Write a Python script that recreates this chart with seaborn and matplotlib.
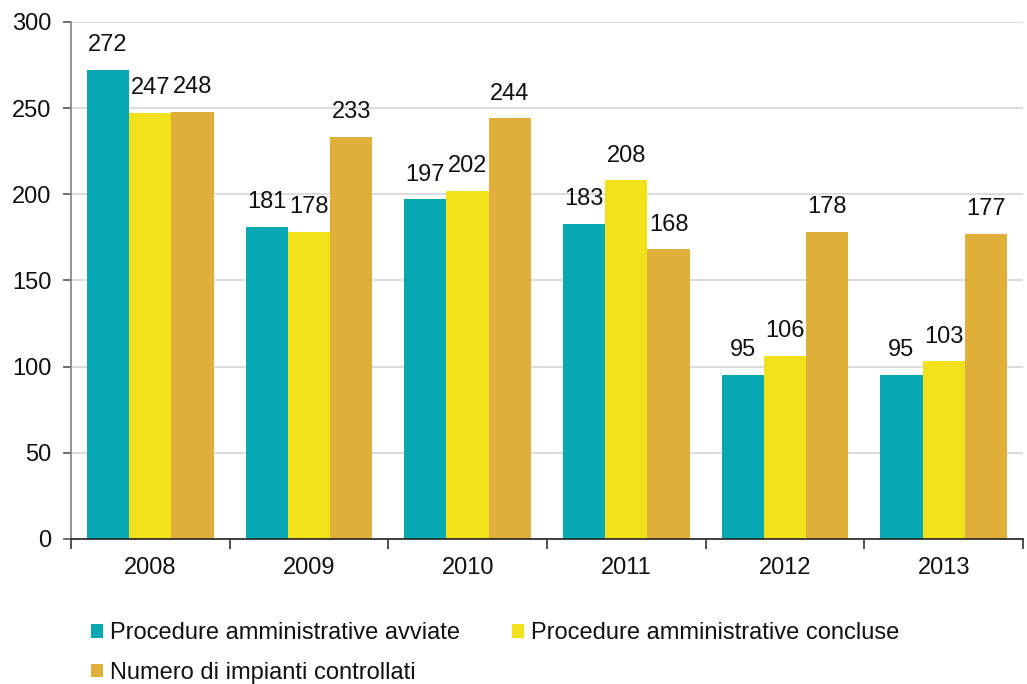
import matplotlib
matplotlib.use("Agg")
import matplotlib.pyplot as plt
import seaborn as sns
import pandas as pd
import numpy as np

years = ["2008", "2009", "2010", "2011", "2012", "2013"]
avviate = [272, 181, 197, 183, 95, 95]
concluse = [247, 178, 202, 208, 106, 103]
impianti = [248, 233, 244, 168, 178, 177]
series_names = [
    "Procedure amministrative avviate",
    "Procedure amministrative concluse",
    "Numero di impianti controllati",
]
colors = ["#07A8B2", "#F1E11B", "#E0AE3A"]

df = pd.DataFrame({
    "anno": years * 3,
    "valore": avviate + concluse + impianti,
    "serie": [series_names[0]] * 6 + [series_names[1]] * 6 + [series_names[2]] * 6,
})

sns.set_theme(style="white")
plt.rcParams["font.family"] = ["Liberation Sans", "DejaVu Sans"]
FS = 17

fig = plt.figure(figsize=(10.27, 6.84), dpi=100)
ax = fig.add_axes([0.0691, 0.212, 0.927, 0.756])

sns.barplot(data=df, x="anno", y="valore", hue="serie", hue_order=series_names,
            palette=colors, saturation=1, width=0.8, linewidth=0, ax=ax, legend=True)

# value labels above each bar
for cont in ax.containers:
    ax.bar_label(cont, fmt="%d", padding=10, fontsize=FS, color="#111111")

ax.set_ylim(0, 300)
ax.set_xlim(-0.5, 5.5)
ax.set_yticks(np.arange(0, 301, 50))
ax.yaxis.grid(True, color="#D9D9D9", linewidth=1.3)
ax.set_axisbelow(True)
ax.set_xlabel("")
ax.set_ylabel("")

for s in ["top", "right"]:
    ax.spines[s].set_visible(False)
ax.spines["left"].set_color("#808080")
ax.spines["bottom"].set_color("#222222")
ax.spines["left"].set_linewidth(1.2)
ax.spines["bottom"].set_linewidth(1.2)

ax.tick_params(axis="y", which="major", left=True, length=6, width=1.2,
               color="#555555", labelsize=FS, pad=8, labelcolor="#111111")
ax.tick_params(axis="x", which="major", bottom=False, length=0,
               labelsize=FS, pad=13, labelcolor="#111111")
ax.set_xticks(np.arange(-0.5, 6, 1), minor=True)
ax.tick_params(axis="x", which="minor", bottom=True, length=7, width=1.2,
               color="#333333")

handles, labels = ax.get_legend_handles_labels()
order = [0, 2, 1]
ax.legend([handles[i] for i in order], [labels[i] for i in order],
          ncol=2, loc="upper left", bbox_to_anchor=(0.089, 0.090),
          bbox_transform=fig.transFigure, frameon=False, fontsize=FS,
          handlelength=0.5, handleheight=0.5, handletextpad=0.3,
          columnspacing=2.2, labelspacing=0.75, borderaxespad=0,
          borderpad=0, labelcolor="#111111")

fig.savefig("out.png", dpi=100)
